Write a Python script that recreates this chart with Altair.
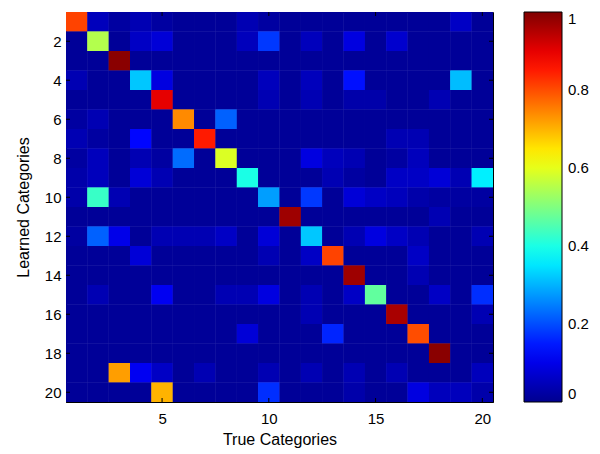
import altair as alt
import pandas as pd

# Confusion-style matrix: rows = learned categories (1..20), cols = true categories (1..20)
r01 = [0.81,0.05,0.02,0.04,0.02,0.01,0.01,0.01,0.04,0.02,0.01,0.01,0.01,0.01,0.01,0.01,0.01,0.01,0.06,0.01]
r02 = [0.01,0.55,0.01,0.06,0.08,0.01,0.01,0.01,0.05,0.18,0.01,0.05,0.01,0.09,0.01,0.07,0.01,0.01,0.01,0.01]
r03 = [0.01,0.01,0.99,0.01,0.01,0.01,0.01,0.01,0.01,0.01,0.01,0.01,0.01,0.01,0.01,0.01,0.01,0.01,0.01,0.01]
r04 = [0.04,0.01,0.01,0.32,0.09,0.01,0.01,0.01,0.01,0.05,0.01,0.05,0.01,0.14,0.01,0.01,0.01,0.01,0.31,0.01]
r05 = [0.01,0.01,0.01,0.01,0.90,0.01,0.01,0.01,0.01,0.04,0.01,0.04,0.01,0.03,0.03,0.01,0.01,0.04,0.01,0.01]
r06 = [0.02,0.04,0.01,0.01,0.01,0.74,0.01,0.22,0.01,0.01,0.01,0.01,0.01,0.01,0.01,0.01,0.01,0.01,0.01,0.01]
r07 = [0.04,0.02,0.01,0.13,0.01,0.01,0.85,0.01,0.01,0.01,0.01,0.01,0.01,0.01,0.01,0.04,0.04,0.01,0.01,0.01]
r08 = [0.02,0.05,0.01,0.04,0.02,0.23,0.01,0.59,0.01,0.01,0.01,0.09,0.05,0.04,0.01,0.02,0.05,0.01,0.01,0.01]
r09 = [0.03,0.05,0.01,0.08,0.04,0.01,0.01,0.01,0.40,0.01,0.01,0.01,0.04,0.02,0.01,0.06,0.06,0.08,0.04,0.36]
r10 = [0.03,0.43,0.04,0.01,0.01,0.01,0.01,0.01,0.01,0.28,0.01,0.18,0.01,0.08,0.06,0.05,0.03,0.02,0.02,0.02]
r11 = [0.01,0.01,0.01,0.01,0.01,0.01,0.01,0.01,0.01,0.01,0.97,0.01,0.01,0.01,0.01,0.01,0.01,0.04,0.01,0.01]
r12 = [0.02,0.22,0.10,0.01,0.04,0.04,0.04,0.06,0.01,0.08,0.01,0.32,0.01,0.04,0.09,0.06,0.04,0.01,0.01,0.04]
r13 = [0.01,0.01,0.01,0.08,0.01,0.01,0.01,0.01,0.01,0.04,0.01,0.06,0.81,0.01,0.01,0.01,0.06,0.01,0.01,0.01]
r14 = [0.01,0.01,0.01,0.01,0.01,0.01,0.01,0.01,0.01,0.01,0.01,0.01,0.01,0.97,0.01,0.01,0.04,0.01,0.01,0.01]
r15 = [0.01,0.04,0.01,0.01,0.11,0.01,0.01,0.04,0.04,0.09,0.01,0.04,0.01,0.06,0.47,0.01,0.01,0.06,0.01,0.17]
r16 = [0.01,0.01,0.01,0.01,0.01,0.01,0.01,0.01,0.01,0.01,0.01,0.04,0.01,0.01,0.01,0.96,0.01,0.01,0.01,0.04]
r17 = [0.01,0.01,0.01,0.01,0.01,0.01,0.01,0.01,0.08,0.01,0.01,0.01,0.16,0.01,0.01,0.01,0.80,0.01,0.01,0.01]
r18 = [0.01,0.01,0.01,0.01,0.01,0.01,0.01,0.01,0.01,0.01,0.01,0.01,0.01,0.01,0.01,0.01,0.01,0.99,0.01,0.01]
r19 = [0.01,0.01,0.72,0.11,0.06,0.01,0.04,0.01,0.01,0.04,0.01,0.04,0.01,0.04,0.01,0.04,0.01,0.01,0.01,0.05]
r20 = [0.01,0.01,0.01,0.01,0.70,0.01,0.01,0.01,0.01,0.17,0.01,0.01,0.01,0.03,0.01,0.01,0.09,0.05,0.05,0.03]

rows = [r01,r02,r03,r04,r05,r06,r07,r08,r09,r10,r11,r12,r13,r14,r15,r16,r17,r18,r19,r20]
x_ticks = [5, 10, 15, 20]
y_ticks = [2, 4, 6, 8, 10, 12, 14, 16, 18, 20]
cbar_ticks = [0, 0.2, 0.4, 0.6, 0.8, 1]

recs = []
for i, row in enumerate(rows):
    for j, v in enumerate(row):
        recs.append({"true": j + 1, "learned": i + 1, "x0": j + 0.5, "x1": j + 1.5,
                     "y0": i + 0.5, "y1": i + 1.5, "v": v})
df = pd.DataFrame(recs)
xt = pd.DataFrame({"t": x_ticks})
yt = pd.DataFrame({"t": y_ticks})

FONT = "Liberation Sans"
W, H = 427, 390
TL = 4  # inward tick length

# jet colormap, evenly spaced stops over [0, 1]
jet_rng = ["#00008f", "#0000ff", "#0080ff", "#00ffff", "#80ff80",
           "#ffff00", "#ff8000", "#ff0000", "#800000"]
jet = alt.Scale(domain=[0, 1], range=jet_rng, interpolate="rgb")
xs = alt.Scale(domain=[0.5, 20.5], nice=False, zero=False)
ys = alt.Scale(domain=[0.5, 20.5], nice=False, zero=False, reverse=True)

base = alt.Chart(df).mark_rect().encode(
    x=alt.X("x0:Q", scale=xs,
            axis=alt.Axis(values=x_ticks, title="True Categories", grid=False,
                          tickSize=0, labelPadding=9, titlePadding=5)),
    x2="x1:Q",
    y=alt.Y("y0:Q", scale=ys,
            axis=alt.Axis(values=y_ticks, title="Learned Categories", grid=False,
                          tickSize=0, labelPadding=5, titlePadding=13)),
    y2="y1:Q",
    color=alt.Color("v:Q", scale=jet,
                    legend=alt.Legend(title=None, type="gradient", orient="none",
                                      legendX=458, legendY=0,
                                      direction="vertical", gradientLength=H,
                                      gradientThickness=38, values=cbar_ticks,
                                      format="~g", labelBaseline="middle",
                                      labelFontSize=15, labelFont=FONT, labelColor="black",
                                      gradientStrokeColor="black", gradientStrokeWidth=1,
                                      labelOffset=6)),
)

tick_bottom = alt.Chart(xt).mark_rule(color="black").encode(
    x=alt.X("t:Q", scale=xs), y=alt.value(H), y2=alt.value(H - TL))
tick_top = alt.Chart(xt).mark_rule(color="black").encode(
    x=alt.X("t:Q", scale=xs), y=alt.value(0), y2=alt.value(TL))
tick_left = alt.Chart(yt).mark_rule(color="black").encode(
    y=alt.Y("t:Q", scale=ys), x=alt.value(0), x2=alt.value(TL))
tick_right = alt.Chart(yt).mark_rule(color="black").encode(
    y=alt.Y("t:Q", scale=ys), x=alt.value(W), x2=alt.value(W - TL))

# heat layer drawn twice so the anti-aliased seams between cells disappear
chart = alt.layer(base, base, tick_bottom, tick_top, tick_left, tick_right).properties(
    width=W, height=H,
    autosize=alt.AutoSizeParams(type="none"),
    padding={"left": 58, "top": 4, "right": 99, "bottom": 52},
).configure_view(
    stroke="black", strokeWidth=1
).configure_axis(
    labelFont=FONT, titleFont=FONT, labelFontSize=15, titleFontSize=16,
    labelColor="black", titleColor="black", titleFontWeight="normal",
    domainColor="black", tickColor="black"
)

chart.save("out.html", embed_options={"renderer": "svg", "actions": False})
